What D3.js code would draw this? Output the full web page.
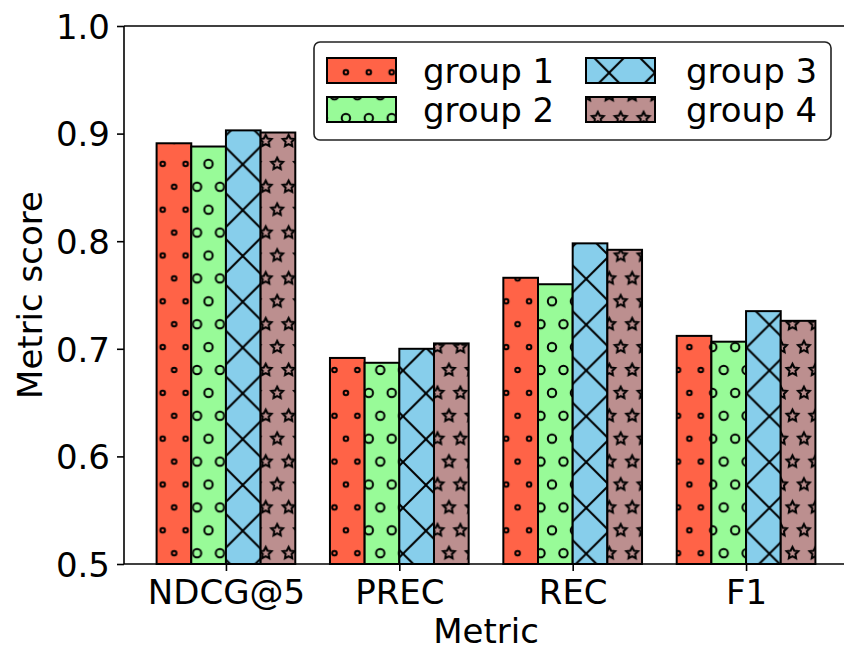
<!DOCTYPE html>
<html>
<head>
<meta charset="utf-8">
<script src="https://cdn.jsdelivr.net/npm/d3@7/dist/d3.min.js"></script>
<style>
  html, body { margin: 0; padding: 0; background: #fff; }
  svg text { font-family: "DejaVu Sans", sans-serif; fill: #000; }
</style>
</head>
<body>
<svg id="chart" width="844" height="647"></svg>
<script>
// Metric scores per group
const metrics = ["NDCG@5", "PREC", "REC", "F1"];
const groupNames = ["group 1", "group 2", "group 3", "group 4"];
const group1 = [0.891, 0.6915, 0.766, 0.712];
const group2 = [0.888, 0.687, 0.760, 0.7066];
const group3 = [0.903, 0.700, 0.798, 0.735];
const group4 = [0.901, 0.705, 0.792, 0.726];
const yTicks = [0.5, 0.6, 0.7, 0.8, 0.9, 1.0];
const groupColors = ["#ff6347", "#98fb98", "#87ceeb", "#bc8f8f"];
const groupHatches = ["o", "O", "x", "*"];

const series = [group1, group2, group3, group4];

const svg = d3.select("#chart");
const plot = { left: 124, right: 848, top: 26, bottom: 564 };

const x = d3.scaleLinear().domain([-0.588, 3.588]).range([plot.left, plot.right]);
const y = d3.scaleLinear().domain([0.5, 1.0]).range([plot.bottom, plot.top]);
const barW = 0.2;

// ---- hatch patterns (anchored in page space so they line up across bars) ----
const defs = svg.append("defs");
const u = 22.9;          // hatch cell
const hatchW = 2.0;      // hatch stroke width
const anchorX = 162.7, anchorY = 530.3;

function starPath(cx, cy, R) {
  const pts = [];
  for (let k = 0; k < 10; k++) {
    const r = k % 2 === 0 ? R : R * 0.5;
    const a = -Math.PI / 2 + k * Math.PI / 5;
    pts.push([cx + r * Math.cos(a), cy + r * Math.sin(a)]);
  }
  return "M" + pts.map(p => p[0].toFixed(2) + "," + p[1].toFixed(2)).join("L") + "Z";
}

function latticePattern(id, drawShape) {
  const p = defs.append("pattern")
    .attr("id", id)
    .attr("patternUnits", "userSpaceOnUse")
    .attr("x", anchorX).attr("y", anchorY)
    .attr("width", u).attr("height", 2 * u);
  const centers = [[0, 0], [u, 0], [0, 2 * u], [u, 2 * u], [u / 2, u]];
  centers.forEach(c => drawShape(p, c[0], c[1]));
}

groupHatches.forEach((h, i) => {
  const id = "hatch-" + i;
  if (h === "o" || h === "O") {
    const r = h === "o" ? 2.3 : 4.2;
    latticePattern(id, (p, cx, cy) => p.append("circle")
      .attr("cx", cx).attr("cy", cy).attr("r", r)
      .attr("fill", "none").attr("stroke", "#000").attr("stroke-width", hatchW));
  } else if (h === "*") {
    latticePattern(id, (p, cx, cy) => p.append("path")
      .attr("d", starPath(cx, cy, 6.2))
      .attr("fill", "none").attr("stroke", "#000").attr("stroke-width", hatchW)
      .attr("stroke-linejoin", "miter"));
  } else if (h === "x") {
    const s = 2 * u;
    const p = defs.append("pattern")
      .attr("id", id)
      .attr("patternUnits", "userSpaceOnUse")
      .attr("x", 242.7).attr("y", 485)
      .attr("width", s).attr("height", s);
    [-s, 0, s].forEach(c => {
      p.append("line").attr("x1", -s).attr("y1", -s + c).attr("x2", 2 * s).attr("y2", 2 * s + c)
        .attr("stroke", "#000").attr("stroke-width", hatchW);
      p.append("line").attr("x1", -s).attr("y1", 2 * s + c).attr("x2", 2 * s).attr("y2", -s + c)
        .attr("stroke", "#000").attr("stroke-width", hatchW);
    });
  }
});

// ---- bars ----
const barLayer = svg.append("g");
series.forEach((vals, gi) => {
  const off = (gi - 1.5) * barW;
  const g = barLayer.append("g");
  const bars = g.selectAll("g.bar").data(vals.map((v, mi) => ({ v, mi }))).join("g").attr("class", "bar");
  const rx = d => x(d.mi + off - barW / 2);
  const rw = d => x(d.mi + off + barW / 2) - x(d.mi + off - barW / 2);
  bars.append("rect").attr("x", rx).attr("y", d => y(d.v)).attr("width", rw)
    .attr("height", d => y(0.5) - y(d.v)).attr("fill", groupColors[gi]);
  bars.append("rect").attr("x", rx).attr("y", d => y(d.v)).attr("width", rw)
    .attr("height", d => y(0.5) - y(d.v)).attr("fill", `url(#hatch-${gi})`);
  bars.append("rect").attr("x", rx).attr("y", d => y(d.v)).attr("width", rw)
    .attr("height", d => y(0.5) - y(d.v)).attr("fill", "none")
    .attr("stroke", "#000").attr("stroke-width", 2);
});

// ---- axes ----
const fontPx = 34;
const yAxis = d3.axisLeft(y).tickValues(yTicks).tickFormat(d3.format(".1f")).tickSize(7).tickPadding(7);
const yG = svg.append("g").attr("transform", `translate(${plot.left},0)`).call(yAxis);
const xAxis = d3.axisBottom(x).tickValues(d3.range(metrics.length)).tickFormat(i => metrics[i]).tickSize(7).tickPadding(7);
const xG = svg.append("g").attr("transform", `translate(0,${plot.bottom})`).call(xAxis);
[yG, xG].forEach(g => {
  g.select(".domain").remove();
  g.selectAll(".tick line").attr("stroke", "#000").attr("stroke-width", 1.6);
  g.selectAll(".tick text").attr("font-size", fontPx).attr("font-family", "DejaVu Sans").attr("fill", "#000");
});
yG.selectAll(".tick text").attr("dy", "0.36em");
xG.selectAll(".tick text").attr("dy", null).attr("y", 603.5 - plot.bottom);

// spines
const spines = svg.append("g").attr("stroke", "#000").attr("stroke-width", 1.6).attr("fill", "none");
spines.append("line").attr("x1", plot.left).attr("x2", plot.left).attr("y1", plot.top).attr("y2", plot.bottom);
spines.append("line").attr("x1", plot.left).attr("x2", plot.right).attr("y1", plot.bottom).attr("y2", plot.bottom);
spines.append("line").attr("x1", plot.left).attr("x2", plot.right).attr("y1", plot.top).attr("y2", plot.top);
spines.append("line").attr("x1", plot.right).attr("x2", plot.right).attr("y1", plot.top).attr("y2", plot.bottom);

// axis titles
svg.append("text").attr("x", (plot.left + plot.right) / 2).attr("y", 643)
  .attr("text-anchor", "middle").attr("font-size", fontPx).text("Metric");
svg.append("text").attr("transform", `translate(42,${(plot.top + plot.bottom) / 2}) rotate(-90)`)
  .attr("text-anchor", "middle").attr("font-size", fontPx).text("Metric score");

// ---- legend ----
const legend = svg.append("g");
legend.append("rect").attr("x", 314).attr("y", 42).attr("width", 517).attr("height", 98)
  .attr("rx", 6).attr("fill", "#fff").attr("stroke", "#222").attr("stroke-width", 1.6);
const legendPos = [[327, 58, 423, 82.5], [327, 97, 423, 121.5], [586, 58, 686, 82.5], [586, 97, 686, 121.5]];
groupNames.forEach((name, gi) => {
  const [px, py, tx, ty] = legendPos[gi];
  legend.append("rect").attr("x", px).attr("y", py).attr("width", 69).attr("height", 25).attr("fill", groupColors[gi]);
  legend.append("rect").attr("x", px).attr("y", py).attr("width", 69).attr("height", 25).attr("fill", `url(#hatch-${gi})`);
  legend.append("rect").attr("x", px).attr("y", py).attr("width", 69).attr("height", 25)
    .attr("fill", "none").attr("stroke", "#000").attr("stroke-width", 2);
  legend.append("text").attr("x", tx).attr("y", ty).attr("font-size", fontPx).text(name);
});
</script>
</body>
</html>
